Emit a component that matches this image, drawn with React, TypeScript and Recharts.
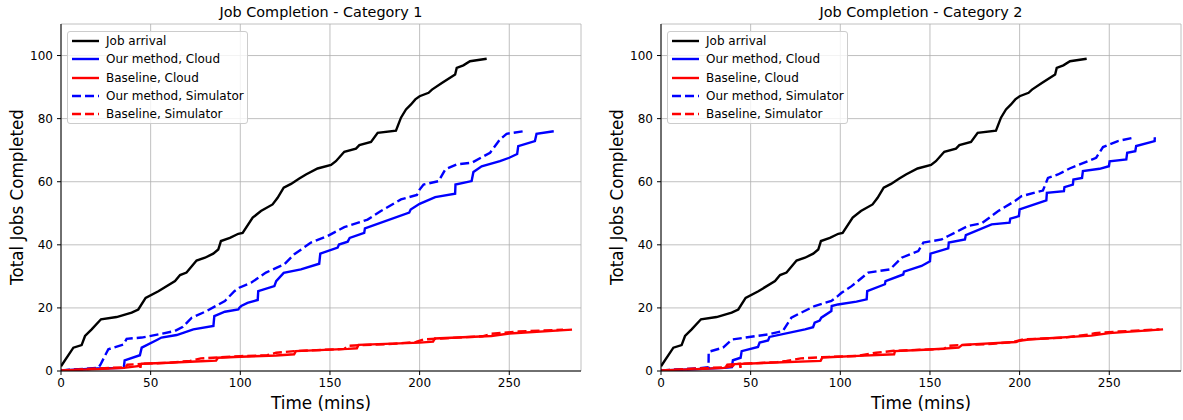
import React from 'react';
import { LineChart, Line, XAxis, YAxis, CartesianGrid } from 'recharts';

// [time (mins), jobs]
const jobArrival = [
  [0, 1.5], [6.9, 7.4], [11.5, 8.2], [13.4, 11.1], [17.1, 13.2], [22.3, 16.4], [31, 17.1], [39.4, 18.5],
  [43.1, 19.5], [47.2, 23.2], [54.3, 25.3], [63.6, 28.5], [66.4, 30.4], [70, 31.2], [75.6, 35], [80.3, 35.9],
  [84.9, 37.2], [87.7, 38.5], [89.2, 41.2], [94.2, 42.2], [98.9, 43.5], [101.3, 43.8], [106.9, 48.6],
  [111.5, 50.7], [118, 52.8], [120.8, 54.9], [124.2, 58.1], [128.3, 59.3], [132.9, 61], [136.6, 62.3],
  [143.1, 64.2], [150.6, 65.3], [153.3, 66.5], [158, 69.5], [164.5, 70.5], [166.4, 71.6], [172.9, 72.6],
  [176.6, 75.5], [186.8, 76.2], [189.6, 80.3], [192.4, 82.9], [195.2, 84.5], [197.6, 86.1], [200, 87.1],
  [205, 88.2], [206.9, 89.2], [212.4, 91.3], [219.8, 94], [220.7, 96.1], [224.4, 96.9], [228.1, 98.2], [237.4, 99],
];

const oursCloud1 = [
  [0, 0.2], [20, 0.8], [35, 1], [35.5, 3.4], [44, 5], [45, 7.4], [54, 10], [56, 10.6], [64.5, 11.4],
  [73.8, 13.2], [85, 14.3], [85.5, 17.4], [91.4, 18.8], [98.9, 19.5], [99.4, 20], [100.5, 20.6], [104, 21.6],
  [109.7, 22.5], [110, 25.3], [119, 26.9], [120, 28.5], [124.2, 31.1], [133.8, 32.2], [144, 34], [144.6, 37.2],
  [154.3, 39.1], [155, 40.1], [159.9, 41], [161, 42.2], [169.1, 43.8], [169.5, 45.2], [194.2, 50.2],
  [195, 51.2], [200, 53], [208.7, 55.1], [219.8, 56.2], [220, 59.1], [229, 60.2], [230, 63.1], [234.6, 64.9],
  [244.8, 66.5], [250, 67.6], [254.4, 68.8], [255, 71.3], [264.3, 72.9], [265.2, 75.2], [274.8, 76],
];

const baseCloud1 = [
  [0, 0.2], [20, 0.6], [35, 1], [44, 1.6], [45, 2.3], [60, 2.6], [75, 3], [86.5, 3.3], [87.5, 4.2], [100, 4.5],
  [120, 4.9], [130, 5.3], [131, 6.3], [160, 7], [165, 7.2], [166, 8.3], [200, 9], [207.5, 9.3], [208.5, 10.3],
  [240, 11.1], [250, 11.9], [285, 13.1],
];

const oursSim1 = [
  [0, 0.2], [20.8, 1], [22, 2], [24.5, 4.8], [26.4, 6.9], [34.8, 8.4], [36.6, 10.2], [45, 10.6], [54.3, 11.6],
  [63.6, 12.7], [68, 14], [72.9, 16.9], [81.2, 19], [91.4, 22.2], [96.7, 25.3], [99.4, 26.4], [106, 28],
  [114.3, 31.2], [124.5, 33.8], [130.1, 37], [139.4, 40.7], [148.7, 42.8], [158, 45.6], [171, 48],
  [178.4, 50.7], [189.6, 54.4], [198.5, 55.8], [200, 57.5], [202.2, 59.1], [210.6, 60.2], [214.3, 63.9],
  [220.7, 65.5], [229, 66], [239.3, 69.2], [244.8, 73.4], [248.5, 75.2], [257.8, 76],
];

const baseSim1 = [
  [0, 0.2], [20, 0.8], [36, 1.2], [37, 2], [44, 2.2], [44.3, 1], [44.6, 2.3], [60, 2.6], [72, 3.2], [78, 4],
  [88, 4.3], [100, 4.7], [115, 5], [120, 5.8], [130, 6.3], [158, 7], [160, 8], [185, 8.6], [198, 9.2],
  [202, 10], [235, 11], [240, 11.8], [255, 12.5], [280, 13.1],
];

const oursCloud2 = [
  [0, 0.2], [20, 0.6], [35.5, 1], [39.5, 1.2], [40.1, 3.4], [44.4, 4.2], [45, 6.3], [54.1, 7.6], [55, 9],
  [59.7, 9.7], [60.5, 10.8], [80.3, 13.2], [84.8, 13.9], [85.7, 15.3], [88.5, 16], [89.4, 16.9], [95, 19],
  [95.2, 20.6], [98.7, 21.1], [109, 22], [114.7, 22.7], [115, 25.3], [124.9, 27.5], [125.2, 28.5],
  [135.1, 30.6], [135.5, 31.5], [145.3, 33.3], [150, 34.8], [150.3, 37.2], [160.2, 38.9], [160.5, 40.7],
  [169.5, 41.7], [170, 43.1], [184.4, 46.5], [194.4, 47], [194.8, 48.3], [199.6, 49.1], [200, 51.2],
  [214.9, 54.1], [215.2, 56.5], [224.7, 57], [225, 58.3], [229.7, 59.1], [230, 60.7], [234.8, 61.2],
  [235.3, 63.4], [244.6, 64.1], [249.8, 64.9], [250.2, 66.5], [259.5, 67.1], [260, 69.2], [264.5, 69.7],
  [265, 71.3], [275.3, 72.9], [275.4, 74.1],
];

const baseCloud2 = [
  [0, 0.2], [20, 0.6], [35, 1], [40, 1.5], [41, 2.2], [60, 2.6], [89, 3.2], [90, 4.3], [110, 4.8], [130, 5.3],
  [130.5, 6.3], [150, 6.8], [166, 7.4], [168, 8.3], [198, 9.2], [200, 9.6], [205, 10], [240, 11.2],
  [250, 12], [280, 13.2],
];

const oursSim2 = [
  [0, 0.2], [20, 0.8], [26.5, 1.2], [26.6, 6.1], [34.6, 7.4], [39.6, 10], [59.7, 11.6], [68, 12.7],
  [72.7, 16.9], [76.4, 18], [85.7, 20.6], [95, 22.2], [98.7, 23.8], [100.7, 24.8], [106.3, 26.9],
  [115.6, 31.2], [127.7, 32.2], [134.2, 35.9], [143.5, 38], [146.3, 40.7], [156.5, 41.7], [160.2, 42.8],
  [171.3, 46], [178.8, 46.8], [188.1, 50.7], [197.4, 53.9], [200.9, 55.4], [213, 57.2], [215.8, 61.2],
  [221.4, 62.3], [227.9, 64.2], [242.7, 67.6], [246.5, 71], [254.8, 72.9], [263.2, 73.9],
];

const baseSim2 = [
  [0, 0.2], [20, 0.8], [36, 1.2], [37, 2], [44, 2.3], [44.3, 1], [44.6, 2.3], [65, 2.8], [70, 3.2], [78, 4],
  [90, 4.4], [110, 4.8], [120, 5.8], [130, 6.4], [158, 7], [160, 8], [185, 8.6], [196, 9.2], [202, 10],
  [225, 10.6], [238, 11.5], [242, 12], [255, 12.5], [278, 13.2],
];

const xTicks = [0, 50, 100, 150, 200, 250];
const yTicks = [0, 20, 40, 60, 80, 100];

const legendItems = [
  { name: 'Job arrival', color: '#000000', dashed: false },
  { name: 'Our method, Cloud', color: '#0000ff', dashed: false },
  { name: 'Baseline, Cloud', color: '#ff0000', dashed: false },
  { name: 'Our method, Simulator', color: '#0000ff', dashed: true },
  { name: 'Baseline, Simulator', color: '#ff0000', dashed: true },
];

const FONT = '"DejaVu Sans", sans-serif';
const toPoints = (arr: number[][]) => arr.map(([t, v]) => ({ t, v }));

function Panel({ left, width, rightMargin, title, ours, base, oursSim, baseSim }: any) {
  const plotLeft = 61;
  const plotRight = width - rightMargin;
  const cx = (plotLeft + plotRight) / 2;
  const series = [
    { data: jobArrival, color: '#000000', dash: undefined },
    { data: ours, color: '#0000ff', dash: undefined },
    { data: base, color: '#ff0000', dash: undefined },
    { data: oursSim, color: '#0000ff', dash: '9 4' },
    { data: baseSim, color: '#ff0000', dash: '9 4' },
  ];
  return (
    <div style={{ position: 'absolute', left, top: 0, width, height: 420, fontFamily: FONT }}>
      <div style={{ position: 'absolute', left: cx, top: 12, transform: 'translate(-50%, -50%)', fontSize: 14.4, whiteSpace: 'nowrap', color: '#000' }}>
        {title}
      </div>
      <LineChart width={width} height={420} margin={{ top: 24, right: rightMargin, bottom: 0, left: 0 }}>
        <CartesianGrid stroke="#b0b0b0" strokeWidth={0.8} />
        <XAxis
          type="number"
          dataKey="t"
          domain={[0, 290]}
          ticks={xTicks}
          allowDataOverflow
          height={49}
          tickSize={4}
          tickMargin={3}
          tick={{ fontSize: 12, fill: '#000', fontFamily: FONT }}
          stroke="#000"
        />
        <XAxis xAxisId="top" orientation="top" type="number" domain={[0, 290]} height={0} tick={false} tickLine={false} stroke="#000" />
        <YAxis
          type="number"
          domain={[0, 110]}
          ticks={yTicks}
          allowDataOverflow
          width={61}
          tickSize={4}
          tickMargin={4}
          tick={{ fontSize: 12, fill: '#000', fontFamily: FONT }}
          stroke="#000"
        />
        <YAxis yAxisId="right" orientation="right" type="number" domain={[0, 110]} width={0} tick={false} tickLine={false} stroke="#000" />
        {series.map((s, i) => (
          <Line
            key={i}
            data={toPoints(s.data)}
            dataKey="v"
            type="linear"
            stroke={s.color}
            strokeWidth={2.4}
            strokeDasharray={s.dash}
            dot={false}
            activeDot={false}
            isAnimationActive={false}
          />
        ))}
      </LineChart>
      <div style={{ position: 'absolute', left: cx, top: 403, transform: 'translate(-50%, -50%)', fontSize: 16.8, whiteSpace: 'nowrap' }}>
        Time (mins)
      </div>
      <div style={{ position: 'absolute', left: 17, top: 197, transform: 'translate(-50%, -50%) rotate(-90deg)', fontSize: 16.8, whiteSpace: 'nowrap' }}>
        Total Jobs Completed
      </div>
      <div
        style={{
          position: 'absolute', left: plotLeft + 6, top: 31, width: 181, height: 93, boxSizing: 'border-box',
          border: '1px solid #cccccc', borderRadius: 3, background: 'rgba(255,255,255,0.8)',
        }}
      >
        {legendItems.map((item, i) => (
          <div key={item.name} style={{ position: 'absolute', left: 0, top: 9 + i * 18.3 - 9, height: 18, width: 180 }}>
            <svg width={32} height={18} style={{ position: 'absolute', left: 3, top: 0 }}>
              <line x1={1} y1={9} x2={28} y2={9} stroke={item.color} strokeWidth={2.4} strokeDasharray={item.dashed ? '9 4' : undefined} />
            </svg>
            <span style={{ position: 'absolute', left: 38, top: 0, lineHeight: '18px', fontSize: 12, color: '#000', whiteSpace: 'nowrap' }}>
              {item.name}
            </span>
          </div>
        ))}
      </div>
    </div>
  );
}

export default function App() {
  return (
    <div style={{ position: 'absolute', left: 0, top: 0, width: 1183, height: 420, background: '#fff' }}>
      <Panel left={0} width={600} rightMargin={19} title="Job Completion - Category 1"
        ours={oursCloud1} base={baseCloud1} oursSim={oursSim1} baseSim={baseSim1} />
      <Panel left={600} width={583} rightMargin={2} title="Job Completion - Category 2"
        ours={oursCloud2} base={baseCloud2} oursSim={oursSim2} baseSim={baseSim2} />
    </div>
  );
}
